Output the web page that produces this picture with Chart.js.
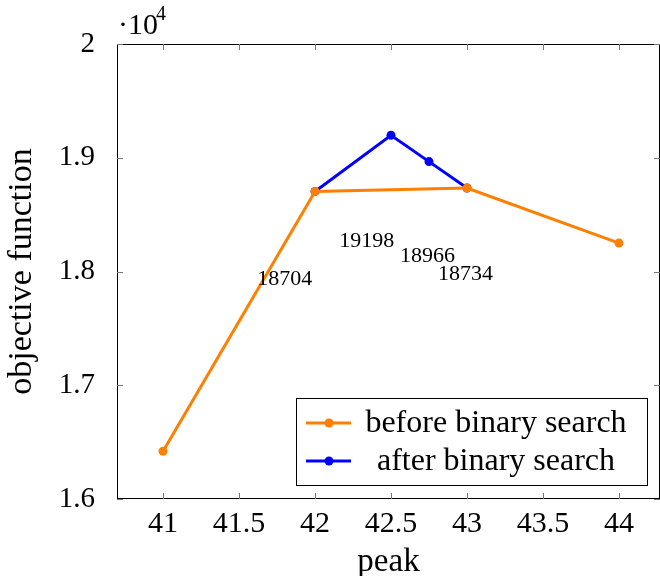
<!DOCTYPE html>
<html>
<head>
<meta charset="utf-8">
<script src="https://cdn.jsdelivr.net/npm/chart.js@4/dist/chart.umd.min.js"></script>
<style>
  html, body { margin: 0; padding: 0; background: #fff; }
  #wrap { width: 660px; height: 576px; }
</style>
</head>
<body>
<div id="wrap"><canvas id="chart" width="660" height="576"></canvas></div>
<script>
// data
const beforePeaks = [41, 42, 43, 44];
const beforeValues = [16420, 18704, 18734, 18250];
const afterPeaks = [42, 42.5, 42.75, 43];
const afterValues = [18704, 19198, 18966, 18734];
const noteTexts = ["18704", "19198", "18966", "18734"];
const notePeaks = [41.8, 42.34, 42.74, 42.99];
const noteValues = [17930, 18270, 18135, 17975];
const xTicks = [41, 41.5, 42, 42.5, 43, 43.5, 44];
const yTicks = [16000, 17000, 18000, 19000, 20000];

const serif = "'Liberation Serif', 'DejaVu Serif', serif";
const orange = "#ff7f00";
const blue = "#0000ff";

function pts(xs, ys) {
  return xs.map((x, i) => ({ x: x, y: ys[i] }));
}

// inward ticks on all four sides, frame, notes, exponent and legend
const decor = {
  id: "decor",
  afterDraw(chart) {
    const c = chart.ctx, a = chart.chartArea;
    const xs = chart.scales.x, ys = chart.scales.y;
    c.save();
    c.strokeStyle = "#000";
    c.lineWidth = 1;
    c.strokeRect(a.left + 0.5, a.top + 0.5, a.right - a.left - 1, a.bottom - a.top - 1);
    c.strokeStyle = "#777";
    xTicks.forEach(v => {
      const px = Math.round(xs.getPixelForValue(v)) + 0.5;
      c.beginPath();
      c.moveTo(px, a.bottom); c.lineTo(px, a.bottom - 6);
      c.moveTo(px, a.top); c.lineTo(px, a.top + 6);
      c.stroke();
    });
    yTicks.forEach(v => {
      const py = Math.round(ys.getPixelForValue(v)) + 0.5;
      c.beginPath();
      c.moveTo(a.left, py); c.lineTo(a.left + 6, py);
      c.moveTo(a.right, py); c.lineTo(a.right - 6, py);
      c.stroke();
    });

    // value notes
    c.fillStyle = "#000";
    c.font = "22px " + serif;
    c.textAlign = "center";
    c.textBaseline = "middle";
    noteTexts.forEach((t, i) => {
      c.fillText(t, xs.getPixelForValue(notePeaks[i]), ys.getPixelForValue(noteValues[i]));
    });

    // exponent
    c.textAlign = "left";
    c.textBaseline = "alphabetic";
    c.font = "30px " + serif;
    c.fillText("\u00b710", a.left + 1, a.top - 10);
    c.font = "20px " + serif;
    c.fillText("4", a.left + 39, a.top - 24);

    // legend
    const lx = 296, ly = 398, lw = 351, lh = 87;
    c.fillStyle = "#fff";
    c.fillRect(lx, ly, lw, lh);
    c.strokeStyle = "#000";
    c.strokeRect(lx + 0.5, ly + 0.5, lw, lh);
    chart.data.datasets.forEach((d, i) => {
      const cy = ly + 25 + i * 38;
      c.strokeStyle = d.borderColor;
      c.lineWidth = 3;
      c.beginPath();
      c.moveTo(lx + 10, cy); c.lineTo(lx + 55, cy);
      c.stroke();
      c.fillStyle = d.borderColor;
      c.beginPath();
      c.arc(lx + 33, cy, 4.5, 0, Math.PI * 2);
      c.fill();
      c.fillStyle = "#000";
      c.font = "32px " + serif;
      c.textAlign = "center";
      c.textBaseline = "middle";
      c.fillText(d.label, lx + 200, cy + 1);
    });
    c.restore();
  }
};

new Chart(document.getElementById("chart"), {
  type: "scatter",
  data: {
    datasets: [
      {
        label: "before binary search",
        data: pts(beforePeaks, beforeValues),
        showLine: true,
        borderColor: orange,
        backgroundColor: orange,
        borderWidth: 3,
        pointRadius: 4.5,
        pointBorderWidth: 0
      },
      {
        label: "after binary search",
        data: pts(afterPeaks, afterValues),
        showLine: true,
        borderColor: blue,
        backgroundColor: blue,
        borderWidth: 3,
        pointRadius: 4.5,
        pointBorderWidth: 0
      }
    ]
  },
  options: {
    responsive: false,
    animation: false,
    layout: { autoPadding: false, padding: { top: 44, right: 0, left: 0, bottom: 0 } },
    plugins: {
      legend: { display: false },
      tooltip: { enabled: false }
    },
    scales: {
      x: {
        type: "linear",
        min: 40.697,
        max: 44.27,
        afterBuildTicks: s => { s.ticks = xTicks.map(v => ({ value: v })); },
        afterFit: s => { s.height = 77; s.paddingRight = 0; s.paddingLeft = 0; },
        grid: { display: false },
        border: { display: false },
        ticks: {
          color: "#000",
          font: { family: serif, size: 30 },
          padding: -1,
          maxRotation: 0,
          callback: v => String(v)
        },
        title: {
          display: true,
          text: "peak",
          color: "#000",
          font: { family: serif, size: 33 },
          padding: { top: 0, bottom: -6 }
        }
      },
      y: {
        min: 16000,
        max: 20000,
        afterBuildTicks: s => { s.ticks = yTicks.map(v => ({ value: v })); },
        afterFit: s => { s.width = 117; },
        grid: { display: false },
        border: { display: false },
        ticks: {
          color: "#000",
          font: { family: serif, size: 29 },
          padding: 14,
          callback: v => String(v / 10000)
        },
        title: {
          display: true,
          text: "objective function",
          color: "#000",
          font: { family: serif, size: 34 },
          padding: { top: 2, bottom: 0 }
        }
      }
    }
  },
  plugins: [decor]
});
</script>
</body>
</html>
